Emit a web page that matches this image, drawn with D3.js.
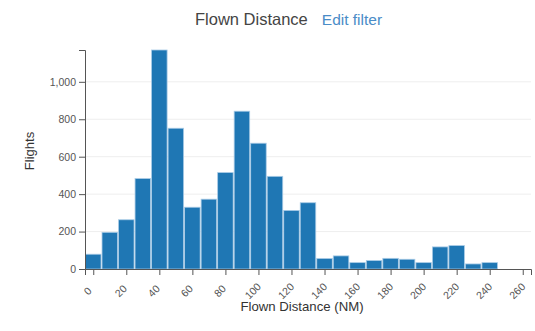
<!DOCTYPE html>
<html>
<head>
<meta charset="utf-8">
<script src="https://cdn.jsdelivr.net/npm/d3@7"></script>
<style>
body{margin:0;background:#fff;font-family:Arial,"Liberation Sans",sans-serif;}
</style>
</head>
<body>
<svg id="chart" width="535" height="331"></svg>
<script>
const binCenters = [0,10,20,30,40,50,60,70,80,90,100,110,120,130,140,150,160,170,180,190,200,210,220,230,240];
const flights =    [79,196,263,483,1170,752,330,373,515,843,672,495,313,354,56,70,34,45,57,52,34,118,125,27,34];
const xTicks = [0,20,40,60,80,100,120,140,160,180,200,220,240,260];
const yTicks = [0,200,400,600,800,1000];
const binWidth = 10;

const svg = d3.select("#chart");
const m = {left:85, top:50, right:4, bottom:62};
const W = 535, H = 331;
const x = d3.scaleLinear().domain([-5,265]).range([m.left, W - m.right]);
const y = d3.scaleLinear().domain([0, d3.max(flights)]).range([H - m.bottom, m.top]);

// gridlines
svg.append("g").selectAll("line").data(yTicks.filter(d=>d>0)).join("line")
  .attr("x1", m.left).attr("x2", W - m.right)
  .attr("y1", d=>y(d)).attr("y2", d=>y(d))
  .attr("stroke", "#eeeeee").attr("stroke-width", 1);

// bars
svg.append("g").selectAll("rect").data(binCenters).join("rect")
  .attr("x", (d)=>x(d - binWidth/2) + 0.5)
  .attr("width", (d)=>x(d + binWidth/2) - x(d - binWidth/2) - 1)
  .attr("y", (d,i)=>y(flights[i]))
  .attr("height", (d,i)=>y(0) - y(flights[i]))
  .attr("fill", "#1f77b4")
  .attr("stroke", "#a9cbe6").attr("stroke-width", 0.8);

// axes
const xAxis = svg.append("g").attr("transform", `translate(0,${y(0)})`)
  .call(d3.axisBottom(x).tickValues(xTicks).tickSize(6).tickSizeOuter(6));
xAxis.selectAll("text")
  .attr("x", 0).attr("y", 0).attr("dy", "0.35em")
  .attr("transform", "translate(-6,22) rotate(-45)")
  .style("text-anchor", "middle")
  .attr("font-size", 10.5).attr("fill", "#555");
const yAxis = svg.append("g").attr("transform", `translate(${m.left},0)`)
  .call(d3.axisLeft(y).tickValues(yTicks).tickFormat(d3.format(",")).tickSize(6).tickSizeOuter(6));
yAxis.selectAll("text").attr("font-size", 10.5).attr("fill", "#555");
svg.selectAll(".domain, .tick line").attr("stroke", "#555");
svg.selectAll(".tick text").attr("font-family", "Arial, 'Liberation Sans', sans-serif");

// labels
svg.append("text").attr("x", 302).attr("y", 311).attr("text-anchor", "middle")
  .attr("font-size", 13.2).attr("fill", "#333").text("Flown Distance (NM)");
svg.append("text").attr("transform", "translate(34,151) rotate(-90)").attr("text-anchor", "middle")
  .attr("font-size", 13).attr("fill", "#333").text("Flights");

// title
const title = svg.append("text").attr("x", 195).attr("y", 25);
title.append("tspan").attr("fill", "#444").attr("font-size", 16.5).text("Flown Distance");
title.append("tspan").attr("fill", "#4a8cc7").attr("font-size", 15.5).attr("dx", 14).text("Edit filter");
</script>
</body>
</html>
